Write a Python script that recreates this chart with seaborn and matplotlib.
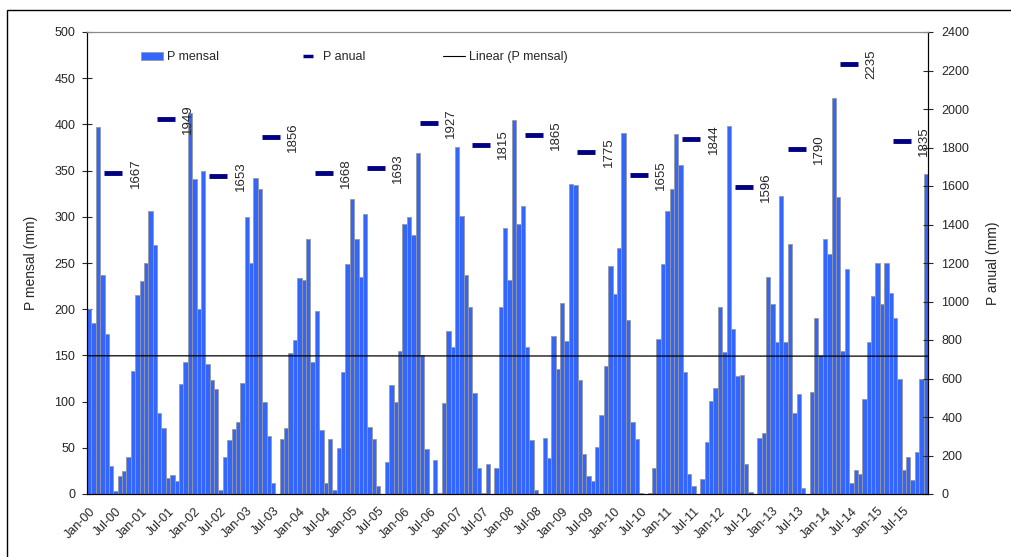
import numpy as np
import pandas as pd
import matplotlib
matplotlib.use("Agg")
import matplotlib.pyplot as plt
import matplotlib.transforms as mtransforms
from matplotlib.patches import Rectangle, Patch
from matplotlib.lines import Line2D
import seaborn as sns

# Monthly precipitation (mm), Jan-2000 .. Dec-2015
p_2000 = [200, 185, 397, 237, 173, 30, 3, 19, 25, 40, 133, 215]
p_2001 = [230, 250, 306, 270, 88, 71, 17, 21, 14, 119, 143, 412]
p_2002 = [341, 200, 350, 141, 123, 114, 4, 40, 58, 70, 78, 120]
p_2003 = [300, 250, 342, 330, 100, 63, 12, 0, 59, 71, 153, 167]
p_2004 = [234, 232, 276, 143, 198, 69, 12, 60, 4, 50, 132, 249]
p_2005 = [319, 276, 235, 303, 72, 60, 9, 0, 35, 118, 100, 155]
p_2006 = [292, 300, 280, 369, 150, 49, 0, 37, 1, 99, 176, 159]
p_2007 = [376, 301, 237, 202, 109, 28, 1, 33, 0, 28, 202, 288]
p_2008 = [232, 405, 292, 312, 159, 58, 4, 0, 61, 39, 171, 135]
p_2009 = [207, 166, 335, 334, 123, 43, 19, 14, 51, 86, 139, 247]
p_2010 = [216, 266, 391, 188, 78, 59, 1, 0, 1, 28, 168, 249]
p_2011 = [306, 330, 390, 356, 132, 22, 9, 0, 16, 56, 101, 115]
p_2012 = [202, 154, 398, 179, 128, 129, 32, 2, 0, 61, 66, 235]
p_2013 = [206, 164, 322, 165, 271, 88, 108, 7, 0, 110, 191, 150]
p_2014 = [276, 260, 429, 321, 155, 243, 12, 26, 22, 103, 165, 214]
p_2015 = [250, 206, 250, 218, 190, 125, 26, 40, 15, 45, 124, 346]

years = list(range(2000, 2016))
p_anual = [1667, 1949, 1653, 1856, 1668, 1693, 1927, 1815,
           1865, 1775, 1655, 1844, 1596, 1790, 2235, 1835]

monthly = (p_2000 + p_2001 + p_2002 + p_2003 + p_2004 + p_2005 + p_2006 + p_2007
           + p_2008 + p_2009 + p_2010 + p_2011 + p_2012 + p_2013 + p_2014 + p_2015)
month_names = ["Jan", "Feb", "Mar", "Apr", "May", "Jun",
               "Jul", "Aug", "Sep", "Oct", "Nov", "Dec"]
labels = ["%s-%02d" % (month_names[k % 12], (years[k // 12]) % 100)
          for k in range(len(monthly))]

df = pd.DataFrame({"idx": np.arange(len(monthly)), "p": monthly})

sns.set_style("white")
plt.rcParams["font.family"] = ["Liberation Sans", "DejaVu Sans"]

fig = plt.figure(figsize=(10.12, 5.57), dpi=100)
ax = fig.add_axes([87 / 1012, 1 - 494 / 557, 841 / 1012, 462 / 557])

sns.barplot(data=df, x="idx", y="p", color="#3366FF", saturation=1,
            edgecolor="#9a9a9a", linewidth=0.6, width=1, ax=ax)

# linear trend of the monthly values
coef = np.polyfit(df["idx"], df["p"], 1)
xx = np.array([-0.5, len(monthly) - 0.5])
ax.plot(xx, np.polyval(coef, xx), color="black", lw=0.9)

ax.set_xlim(-0.5, len(monthly) - 0.5)
ax.set_ylim(0, 500)
ax.set_yticks(np.arange(0, 501, 50))
major = [k for k in range(len(monthly)) if k % 6 == 0]
ax.set_xticks(major)
ax.set_xticklabels([labels[k] for k in major], rotation=45, ha="right",
                   rotation_mode="anchor", fontsize=9)
shift = mtransforms.ScaledTranslation(-8 / 100, 0, fig.dpi_scale_trans)
for lab in ax.get_xticklabels():
    lab.set_transform(lab.get_transform() + shift)
ax.set_xticks(np.arange(len(monthly) + 1) - 0.5, minor=True)
ax.tick_params(axis="x", which="major", length=0, pad=8)
ax.tick_params(axis="x", which="minor", length=5, direction="inout", width=0.8)
ax.tick_params(axis="y", which="major", length=7, direction="inout", width=0.8,
               labelsize=9, pad=5, left=True)
ax.set_xlabel("")
ax.set_ylabel("P mensal (mm)", fontsize=10, labelpad=12)

ax2 = ax.twinx()
ax2.plot([12 * i + 5.5 for i in range(len(years))], p_anual, linestyle="none",
         marker="_", ms=13, mew=3.5, color="#000080")
for i, v in enumerate(p_anual):
    ax2.annotate(str(v), (12 * i + 5.5, v), xytext=(16, 0),
                 textcoords="offset points", rotation=90, ha="center",
                 va="center", fontsize=9.5)
ax2.set_ylim(0, 2400)
ax2.set_yticks(np.arange(0, 2401, 200))
ax2.tick_params(axis="y", length=7, direction="inout", width=0.8,
                labelsize=9, pad=6, right=True)
ax2.set_ylabel("P anual (mm)", fontsize=10, labelpad=12)

for a in (ax, ax2):
    for s in ("left", "right", "bottom"):
        a.spines[s].set_color("black")
        a.spines[s].set_linewidth(0.8)
    a.spines["top"].set_color("#8a8a8a")
    a.spines["top"].set_linewidth(0.8)

handles = [Patch(facecolor="#3366FF", edgecolor="#9a9a9a", lw=0.6),
           Line2D([], [], linestyle="none", marker="_", ms=7, mew=2.5,
                  color="#000080"),
           Line2D([], [], color="black", lw=0.8)]
ax2.legend(handles, ["P mensal", "P anual", "Linear (P mensal)"], ncol=3,
           loc="center left", bbox_to_anchor=(0.058, 0.945), frameon=False,
           fontsize=9, handlelength=1.8, handletextpad=0.3,
           columnspacing=6.2, borderaxespad=0)

fig.add_artist(Rectangle((7 / 1012, -0.05), 1.1, (557 - 10) / 557 + 0.05,
                         transform=fig.transFigure, fill=False,
                         ec="black", lw=1))

fig.savefig("out.png", dpi=100)
